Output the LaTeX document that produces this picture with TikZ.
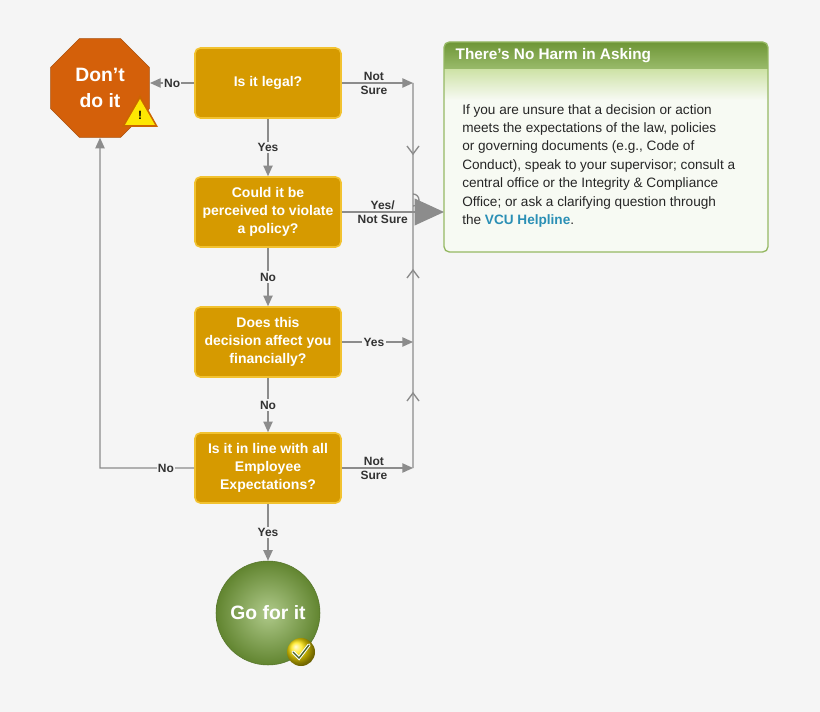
\documentclass[tikz,border=0pt]{standalone}
\usepackage{fontspec}
\setmainfont{Liberation Sans}
\usetikzlibrary{shapes.geometric,arrows.meta}
\definecolor{bg}{HTML}{F5F5F5}
\definecolor{gold}{HTML}{D69A00}
\definecolor{goldedge}{HTML}{F2C230}
\definecolor{stop}{HTML}{D4600A}
\definecolor{ln}{HTML}{8C8C8C}
\definecolor{grn}{HTML}{7AA63C}
\definecolor{grnl}{HTML}{CFE3A8}
\definecolor{link}{HTML}{2A8FB5}
\begin{document}
\begin{tikzpicture}[x=0.75pt,y=-0.75pt,
  q/.style={draw=goldedge,line width=1.2pt,fill=gold,rounded corners=4pt,minimum width=146*0.75pt,minimum height=70*0.75pt,text=white,font=\bfseries\fontsize{10.5}{13.5}\selectfont,align=center,inner sep=1pt},
  c/.style={draw=ln,line width=1pt},
  a/.style={c,-{Triangle[length=8pt,width=7pt]}},
  lb/.style={fill=bg,inner sep=1pt,font=\bfseries\fontsize{9}{10.5}\selectfont,text=black!80,align=center}]
\fill[bg] (0,0) rectangle (820,712);
\useasboundingbox (0,0) rectangle (820,712);
% nodes
\node[q] (q1) at (268,83) {Is it legal?};
\node[q] (q2) at (268,212) {Could it be\\perceived to violate\\a policy?};
\node[q] (q3) at (268,342) {Does this\\decision affect you\\financially?};
\node[q] (q4) at (268,468) {Is it in line with all\\Employee\\Expectations?};
\node[regular polygon,regular polygon sides=8,minimum size=107*0.75pt,fill=stop,draw=stop!80!black,inner sep=0pt,text=white,font=\bfseries\fontsize{14.5}{19}\selectfont,align=center] (dont) at (100,88) {Don't\\do it};
\coordinate (dontE) at (150,83);
\shade[shading=radial,inner color=grn!60!white,outer color=grn!80!black,draw=grn!70!black] (268,613) circle (52);
\node[text=white,font=\bfseries\fontsize{14.5}{17}\selectfont,circle,minimum size=104*0.75pt] (go) at (268,613) {Go for it};
% warning icon
\fill[orange!80!black] (140,95) -- (158,127) -- (122,127) -- cycle;
\fill[yellow!90!orange] (140,99) -- (155,125) -- (125,125) -- cycle;
\node[font=\bfseries\fontsize{9}{9}\selectfont] (warn) at (140,115) {!};
% check icon
\shade[ball color=yellow!80!orange] (301,652) circle (14);
\draw[white,line width=2.5pt,line cap=round] (293,652) -- (299,658) -- (309,645);
\draw[grn!60!black,line width=1pt,line cap=round] (293,652) -- (299,658) -- (309,645);
% info box
\begin{scope}
\clip[rounded corners=4pt] (444,42) rectangle (768,252);
\fill[white!94!grn] (444,42) rectangle (768,252);
\shade[top color=grn!90!black,bottom color=grn!75!white] (444,42) rectangle (768,70);
\shade[top color=grnl,bottom color=white!94!grn] (444,70) rectangle (768,100);
\end{scope}
\draw[grn!80!white,line width=1pt,rounded corners=4pt] (444,42) rectangle (768,252);
\node[anchor=west,text=white,font=\bfseries\fontsize{11.5}{13}\selectfont] (title) at (451,56) {There’s No Harm in Asking};
\node[anchor=north west,align=left,font=\fontsize{10.2}{13.8}\selectfont,text=black!85,inner sep=0pt] (body) at (462,104) {If you are unsure that a decision or action\\meets the expectations of the law, policies\\or governing documents (e.g., Code of\\Conduct), speak to your supervisor; consult a\\central office or the Integrity \& Compliance\\Office; or ask a clarifying question through\\the \textbf{\color{link}VCU Helpline}.};
% right trunk
\coordinate (t1) at (413,83);
\coordinate (t3) at (413,342);
\coordinate (t4) at (413,468);
\coordinate (hopA) at (413,206);
\coordinate (tip) at (444,212);
\draw[c] (t1) -- (hopA) arc (90:-90:6) -- (t4);
\draw[c] (407,146) -- (413,154) -- (419,146);
\foreach \y in {272,395} \draw[c] (407,\y+6) -- (413,\y-2) -- (419,\y+6);
% connectors
\draw[a] (q1.west) -- node[lb]{No} (dontE);
\draw[a] (q1) -- node[lb]{Yes} (q2);
\draw[a] (q2) -- node[lb]{No} (q3);
\draw[a] (q3) -- node[lb]{No} (q4);
\draw[a] (q4) -- node[lb]{Yes} (go);
\draw[a] (q1.east) -- node[lb,fill=none,pos=0.45]{Not\\Sure} (t1);
\draw[a] (q3.east) -- node[lb,pos=0.45]{Yes} (t3);
\draw[a] (q4.east) -- node[lb,fill=none,pos=0.45]{Not\\Sure} (t4);
\draw[c,-{Triangle[length=22pt,width=20pt]}] (q2.east) -- node[lb,fill=none,pos=0.4]{Yes/\\Not Sure} (tip);
\draw[a] (q4.west) -- node[lb,pos=0.3]{No} (100,468) -- (dont.south);
\end{tikzpicture}
\end{document}
